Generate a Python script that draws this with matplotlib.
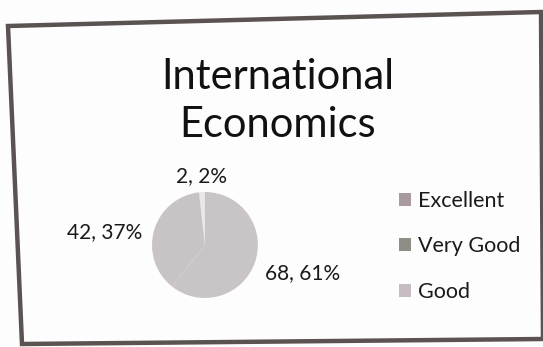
import numpy as np
import matplotlib
matplotlib.use("Agg")
import matplotlib.pyplot as plt
from matplotlib.patches import Patch, Polygon

# data
categories = ["Excellent", "Very Good", "Good"]
counts = [2, 42, 68]
pct_labels = ["2%", "37%", "61%"]

pie_colors = ["#ebe8ea", "#c8c4c6", "#c9c5c7"]
legend_colors = ["#a99a9f", "#8f8d86", "#c8bcc4"]
label_dist = [1.32, 1.98, 1.95]
label_dy = [-0.02, -0.3, 0.12]

plt.rcParams["font.family"] = ["Lato", "DejaVu Sans"]

fig = plt.figure(figsize=(5.43, 3.47), dpi=100)
fig.patch.set_facecolor("#fdfdfd")

# photographed frame around the chart
W, H = 543, 347
corners = [(8, 26), (541, 12), (543, 339), (22, 344)]
frame = Polygon([(x / W, 1 - y / H) for x, y in corners], closed=True,
                fill=False, edgecolor="#5b5252", linewidth=3.2,
                transform=fig.transFigure)
fig.patches.append(frame)

fig.text(0.512, 0.605, "International\nEconomics", ha="center", va="baseline",
         fontsize=30, color="#111111", linespacing=1.34)

ax = fig.add_axes([0.2799, 0.1412, 0.195, 0.3055])
wedges, _ = ax.pie(counts, colors=pie_colors, startangle=90, counterclock=True,
                   wedgeprops=dict(edgecolor="none"))
ax.set_xlim(-1, 1)
ax.set_ylim(-1, 1)
ax.set_aspect("auto")
ax.axis("off")

for w, n, p, d, dy in zip(wedges, counts, pct_labels, label_dist, label_dy):
    ang = np.deg2rad((w.theta1 + w.theta2) / 2)
    ax.text(d * np.cos(ang), d * np.sin(ang) + dy, f"{n}, {p}", ha="center",
            va="center", fontsize=15, color="#1a1a1a", clip_on=False)

handles = [Patch(facecolor=c, edgecolor="none") for c in legend_colors]
fig.legend(handles, categories, loc="center left", bbox_to_anchor=(0.70, 0.29),
           frameon=False, fontsize=15.5, labelspacing=1.18, handlelength=0.55,
           handleheight=0.55, handletextpad=0.3, labelcolor="#1a1a1a")

fig.savefig("out.png", dpi=100, facecolor=fig.get_facecolor())
